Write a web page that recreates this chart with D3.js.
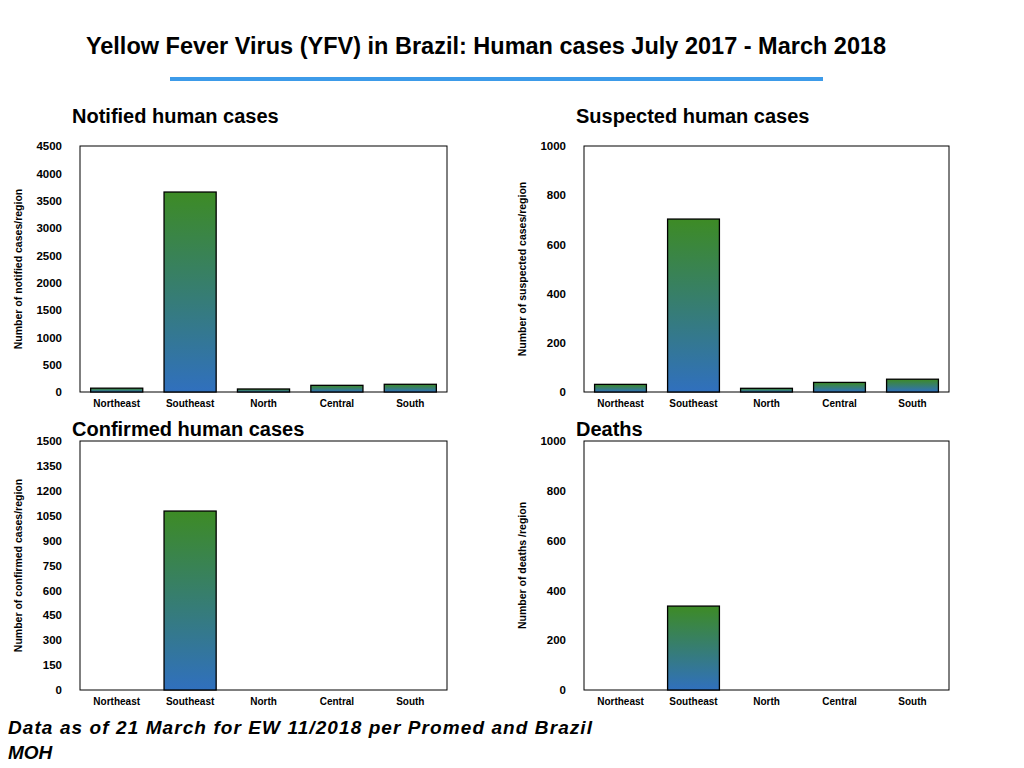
<!DOCTYPE html>
<html><head><meta charset="utf-8">
<script src="https://cdn.jsdelivr.net/npm/d3@7"></script>
<style>body{margin:0;background:#fff;font-family:"Liberation Sans",Arial,sans-serif}</style>
</head><body><svg id="c" width="1024" height="768"></svg>
<script>
const categories=["Northeast","Southeast","North","Central","South"];
const notified=[70,3658,55,122,141];
const suspected=[31,703,15,39,52];
const confirmed=[0,1078,0,0,0];
const deaths=[0,337,0,0,0];
const notifiedTicks=d3.range(0,4501,500);
const suspectedTicks=[0,200,400,600,800,1000];
const confirmedTicks=d3.range(0,1501,150);
const deathTicks=[0,200,400,600,800,1000];

const svg=d3.select("#c");
const defs=svg.append("defs");
const g=defs.append("linearGradient").attr("id","gr").attr("x1",0).attr("y1",0).attr("x2",0).attr("y2",1);
g.append("stop").attr("offset","0%").attr("stop-color","#3d8b25");
g.append("stop").attr("offset","100%").attr("stop-color","#3070be");

svg.append("text").attr("x",486).attr("y",54).attr("text-anchor","middle").attr("font-size",23.5).attr("font-weight","bold").text("Yellow Fever Virus (YFV) in Brazil: Human cases July 2017 - March 2018");
svg.append("rect").attr("x",170).attr("y",77).attr("width",653).attr("height",4).attr("fill","#3d9be9");

function panel(x0,x1,y0,y1,max,ticks,vals,title,ylab,ty){
  svg.append("text").attr("x",x0-8).attr("y",ty).attr("font-size",20).attr("font-weight","bold").text(title);
  const x=d3.scaleBand().domain(categories).range([x0,x1]).paddingInner(0.29).paddingOuter(0.145);
  const y=d3.scaleLinear().domain([0,max]).range([y1,y0]);
  svg.append("rect").attr("x",x0).attr("y",y0).attr("width",x1-x0).attr("height",y1-y0).attr("fill","none").attr("stroke","#000");
  svg.selectAll(null).data(vals.map((v,i)=>({v,c:categories[i]})).filter(d=>d.v>0)).enter().append("rect")
    .attr("x",d=>x(d.c)).attr("width",x.bandwidth()).attr("y",d=>y(d.v)).attr("height",d=>y(0)-y(d.v))
    .attr("fill","url(#gr)").attr("stroke","#000").attr("stroke-width",1.3);
  const ax=svg.append("g").attr("transform",`translate(0,${y1})`).call(d3.axisBottom(x).tickSize(0).tickPadding(8));
  ax.select(".domain").remove();
  ax.selectAll("text").attr("font-size",10).attr("font-weight","bold").attr("font-family","Liberation Sans,Arial");
  const ay=svg.append("g").attr("transform",`translate(${x0},0)`).call(d3.axisLeft(y).tickValues(ticks).tickFormat(d3.format("d")).tickSize(0).tickPadding(18));
  ay.select(".domain").remove();
  ay.selectAll("text").attr("font-size",11.5).attr("font-weight","bold").attr("font-family","Liberation Sans,Arial");
  svg.append("text").attr("transform",`translate(${x0-58},${(y0+y1)/2}) rotate(-90)`).attr("text-anchor","middle").attr("font-size",10.5).attr("font-weight","bold").text(ylab);
}
panel(80,447,146,392,4500,notifiedTicks,notified,"Notified human cases","Number of notified cases/region",123);
panel(584,949,146,392,1000,suspectedTicks,suspected,"Suspected human cases","Number of suspected cases/region",123);
panel(80,447,441,690,1500,confirmedTicks,confirmed,"Confirmed human cases","Number of confirmed cases/region",436);
panel(584,949,441,690,1000,deathTicks,deaths,"Deaths","Number of deaths /region",436);

svg.append("text").attr("x",8).attr("y",734).attr("font-size",19).attr("font-weight","bold").attr("font-style","italic").attr("textLength",584).attr("lengthAdjust","spacing").text("Data as of 21 March for EW 11/2018 per Promed and Brazil");
svg.append("text").attr("x",8).attr("y",759).attr("font-size",19).attr("font-weight","bold").attr("font-style","italic").text("MOH");
</script></body></html>
